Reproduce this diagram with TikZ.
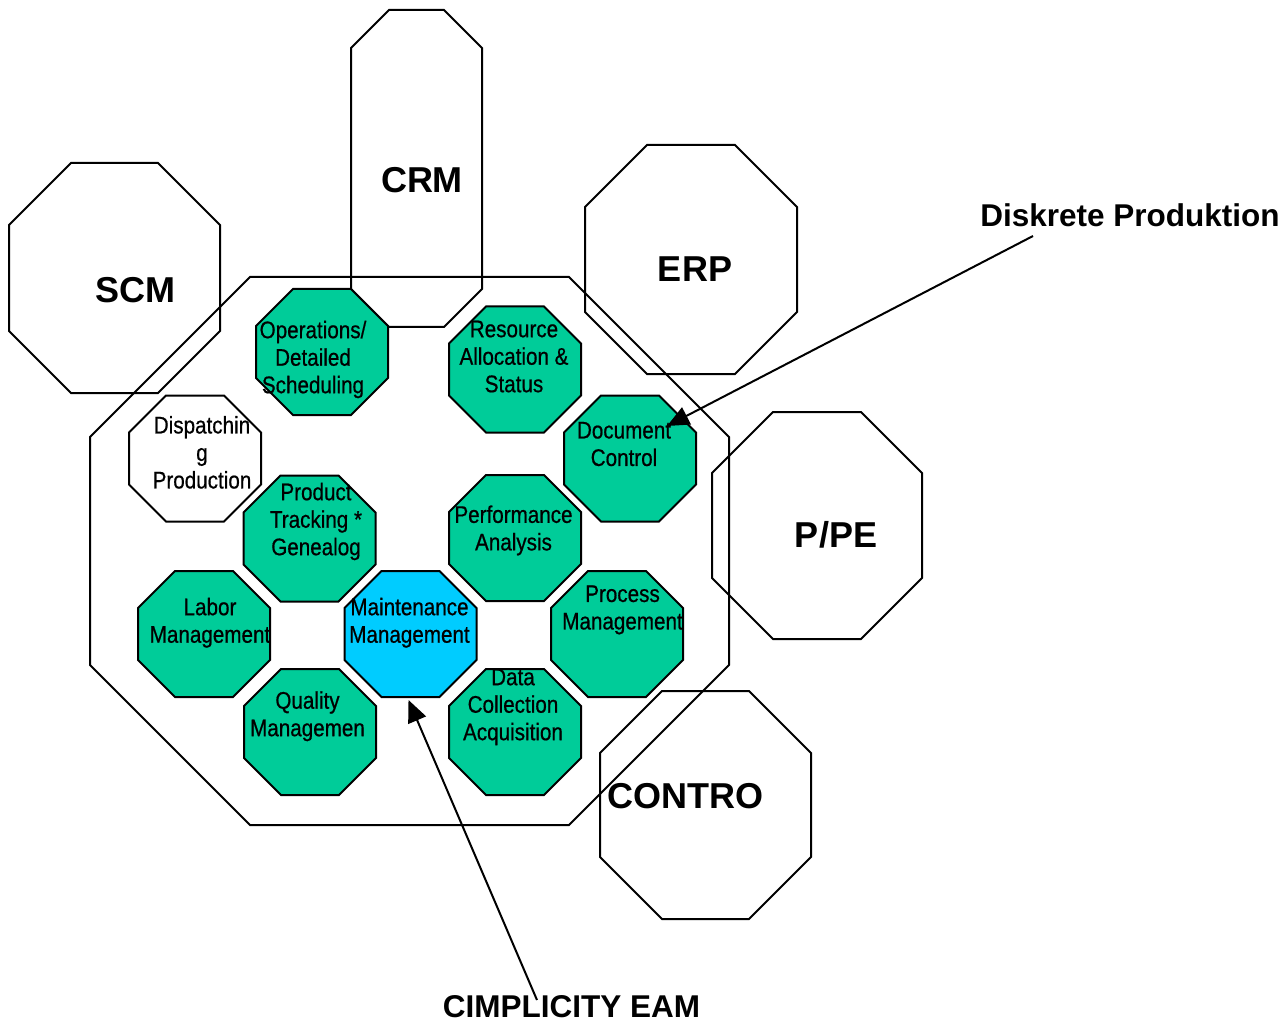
\documentclass[tikz,border=0pt]{standalone}
\usepackage{fontspec}
\setmainfont{Liberation Sans}
\newfontfamily\narrowfont[FakeStretch=0.86,FakeBold=0.6]{Liberation Sans}
\usetikzlibrary{arrows.meta}
\definecolor{modgreen}{RGB}{0,204,153}
\definecolor{modcyan}{RGB}{0,204,255}
\newcommand{\octo}[6][]{\draw[#1] ({#2+#6},{#3}) -- ({#4-#6},{#3}) -- ({#4},{#3+#6}) -- ({#4},{#5-#6}) -- ({#4-#6},{#5}) -- ({#2+#6},{#5}) -- ({#2},{#5-#6}) -- ({#2},{#3+#6}) -- cycle;}
\newcommand{\smalloct}[3][]{\octo[#1]{#2-66}{#3-63}{#2+66}{#3+63}{37}}
\tikzset{
  outline/.style={draw=black, line width=2pt, line join=miter},
  modbox/.style={outline, fill=modgreen},
  modhi/.style={outline, fill=modcyan},
  modwhite/.style={outline, fill=white},
  modlbl/.style={anchor=north, inner sep=0pt, align=center, font=\narrowfont\fontsize{24}{27.5}\selectfont},
  syslbl/.style={anchor=base, inner sep=0pt, font=\bfseries\fontsize{36}{40}\selectfont},
  notelbl/.style={anchor=base, inner sep=0pt, font=\bfseries\fontsize{31.5}{35}\selectfont},
  pointer/.style={draw=black, line width=2pt, -{Triangle[length=22pt,width=19pt]}}
}
\begin{document}
\begin{tikzpicture}[x=1pt, y=-1pt]
\fill[white] (0,0) rectangle (1288,1024);
\useasboundingbox (0,0) rectangle (1288,1024);
% system outlines
\octo[outline]{9}{163}{220}{393}{62}
\octo[outline]{351}{10}{482}{327}{38}
\octo[outline]{585}{145}{797}{374}{62}
\octo[outline]{712}{412}{922}{639}{61}
\octo[outline]{600}{691}{811}{919}{62}
\octo[outline]{90}{277}{729}{825}{160}
% modules
\smalloct[modbox]{322}{352}
\smalloct[modbox]{515}{369.5}
\smalloct[modbox]{630}{458.5}
\smalloct[modwhite]{195}{458.5}
\smalloct[modbox]{309.5}{538.5}
\smalloct[modbox]{515}{538}
\smalloct[modbox]{204}{634}
\smalloct[modhi]{410.5}{634}
\smalloct[modbox]{617}{634}
\smalloct[modbox]{310}{732}
\smalloct[modbox]{515}{732}
% module labels
\node[modlbl] (ops) at (313,318.75) {\strut Operations/\\Detailed\\Scheduling};
\node[modlbl] (res) at (514,317.75) {\strut Resource\\Allocation \&\\Status};
\node[modlbl] (doc) at (624,419) {\strut Document\\Control};
\node[modlbl] (dis) at (202,414) {\strut Dispatchin\\g\\Production};
\node[modlbl] (prt) at (316,480.75) {\strut Product\\Tracking *\\Genealog};
\node[modlbl] (per) at (513.5,503.4) {\strut Performance\\Analysis};
\node[modlbl] (lab) at (210,595.75) {\strut Labor\\Management};
\node[modlbl] (mnt) at (409.5,595.75) {\strut Maintenance\\Management};
\node[modlbl] (prc) at (622.5,582.5) {\strut Process\\Management};
\node[modlbl] (qua) at (307.5,689.25) {\strut Quality\\Managemen};
\node[modlbl] (dat) at (513,665.75) {\strut Data\\Collection\\Acquisition};
% system labels
\node[syslbl] (scm) at (135,303) {SCM};
\node[syslbl] (crm) at (422,193) {CRM};
\node[syslbl] (erp) at (695,282) {ERP};
\node[syslbl] (ppe) at (836,547) {P/PE};
\node[syslbl] (ctl) at (685.5,808) {CONTRO};
% annotations
\node[notelbl] (disk) at (1130,227) {Diskrete Produktion};
\node[notelbl] (cimp) at (571.5,1017) {CIMPLICITY EAM};
\coordinate (diskstart) at (1033,236);
\coordinate (disktip) at (667,426);
\coordinate (cimpstart) at (537,1000);
\coordinate (cimptip) at (408.5,700);
\draw[pointer] (diskstart) -- (disktip);
\draw[pointer] (cimpstart) -- (cimptip);
\end{tikzpicture}
\end{document}
